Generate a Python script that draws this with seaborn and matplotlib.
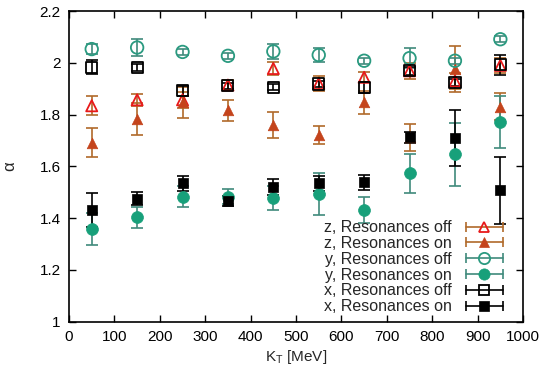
import pandas as pd
import matplotlib
matplotlib.use("Agg")
import matplotlib.pyplot as plt
import seaborn as sns
from matplotlib.lines import Line2D
from matplotlib.legend_handler import HandlerLine2D, HandlerTuple

kt = [50, 150, 250, 350, 450, 550, 650, 750, 850, 950]

z_off = [1.834, 1.857, 1.857, 1.914, 1.978, 1.920, 1.944, 1.969, 1.930, 1.990]
z_off_err = [0.037, 0.023, 0.030, 0.020, 0.025, 0.030, 0.020, 0.032, 0.030, 0.030]
z_on = [1.692, 1.783, 1.847, 1.817, 1.759, 1.721, 1.847, 1.712, 1.976, 1.830]
z_on_err = [0.057, 0.062, 0.061, 0.041, 0.050, 0.034, 0.045, 0.053, 0.088, 0.052]
y_off = [2.053, 2.059, 2.042, 2.027, 2.044, 2.030, 2.008, 2.018, 2.008, 2.091]
y_off_err = [0.020, 0.032, 0.012, 0.012, 0.028, 0.028, 0.012, 0.040, 0.012, 0.012]
y_on = [1.358, 1.403, 1.483, 1.483, 1.478, 1.493, 1.431, 1.573, 1.647, 1.772]
y_on_err = [0.060, 0.040, 0.040, 0.030, 0.045, 0.080, 0.050, 0.076, 0.122, 0.100]
x_off = [1.982, 1.982, 1.892, 1.911, 1.905, 1.918, 1.905, 1.969, 1.924, 1.992]
x_off_err = [0.027, 0.012, 0.020, 0.012, 0.012, 0.012, 0.020, 0.015, 0.015, 0.040]
x_on = [1.431, 1.474, 1.534, 1.467, 1.521, 1.534, 1.538, 1.712, 1.709, 1.508]
x_on_err = [0.065, 0.025, 0.030, 0.020, 0.030, 0.030, 0.030, 0.020, 0.107, 0.130]

labels = ["z, Resonances off", "z, Resonances on", "y, Resonances off",
          "y, Resonances on", "x, Resonances off", "x, Resonances on"]
values = [z_off, z_on, y_off, y_on, x_off, x_on]
errors = [z_off_err, z_on_err, y_off_err, y_on_err, x_off_err, x_on_err]

# style per series: marker, marker colour, filled?, errorbar colour
styles = [
    ("^", "#e8191a", False, "#b0692a"),
    ("^", "#c4441c", True, "#b0692a"),
    ("o", "#2a9a80", False, "#3f8a7c"),
    ("o", "#17a07a", True, "#3f8a7c"),
    ("s", "black", False, "black"),
    ("s", "black", True, "black"),
]

sns.set_style("ticks")
plt.rcParams["font.family"] = ["Liberation Sans", "DejaVu Sans"]
plt.rcParams["mathtext.fontset"] = "custom"
plt.rcParams["mathtext.rm"] = "Liberation Sans"

fig = plt.figure(figsize=(5.5, 3.74), dpi=100)
ax = fig.add_axes([0.1255, 0.140, 0.8255, 0.8305])

handles = []
for lab, v, e, (mk, mc, filled, ec) in zip(labels, values, errors, styles):
    df = pd.DataFrame({"kt": kt, "alpha": v})
    ax.errorbar(kt, v, yerr=e, fmt="none", ecolor=ec, elinewidth=1.2,
                capsize=4, capthick=1.2, zorder=2)
    size = 9 if mk == "o" else 8
    if filled:
        sns.scatterplot(data=df, x="kt", y="alpha", marker=mk, color=mc,
                        edgecolor=mc, s=size ** 2 * 0.9, linewidth=0.5,
                        ax=ax, zorder=3, legend=False)
    else:
        sns.scatterplot(data=df, x="kt", y="alpha", marker=mk,
                        facecolors="none", edgecolor=mc, s=size ** 2,
                        linewidth=1.3, ax=ax, zorder=3, legend=False)
    bar = Line2D([], [], color=ec, lw=1.2, marker="|", markersize=7,
                 markeredgewidth=1.2)
    dot = Line2D([], [], ls="none", marker=mk, markersize=size * 0.9,
                 markerfacecolor=mc if filled else "none",
                 markeredgecolor=mc, markeredgewidth=1.3 if not filled else 0.5)
    handles.append((bar, dot))

hmap = {h[0]: HandlerLine2D(numpoints=2) for h in handles}
hmap[tuple] = HandlerTuple(ndivide=1)
ax.legend(handles, labels, handler_map=hmap, loc="lower right",
          markerfirst=False, frameon=False, fontsize=11.5, numpoints=1,
          handlelength=2.9, handletextpad=0.6, labelspacing=0.05,
          borderaxespad=0.3, bbox_to_anchor=(0.99, -0.012))

ax.set_xlim(0, 1000)
ax.set_ylim(1, 2.2)
ax.set_xticks(range(0, 1001, 100))
ax.set_yticks([1, 1.2, 1.4, 1.6, 1.8, 2, 2.2])
ax.set_yticklabels(["1", "1.2", "1.4", "1.6", "1.8", "2", "2.2"])
ax.tick_params(direction="in", top=True, right=True, length=5, width=1,
               labelsize=11, colors="black", pad=6)
for s in ax.spines.values():
    s.set_linewidth(1.2)
    s.set_color("black")
ax.set_xlabel(r"K$_\mathregular{T}$ [MeV]", fontsize=11, labelpad=3)
ax.set_ylabel("α", fontsize=12, labelpad=16)
ax.set_facecolor("white")

fig.savefig("out.png", dpi=100)
